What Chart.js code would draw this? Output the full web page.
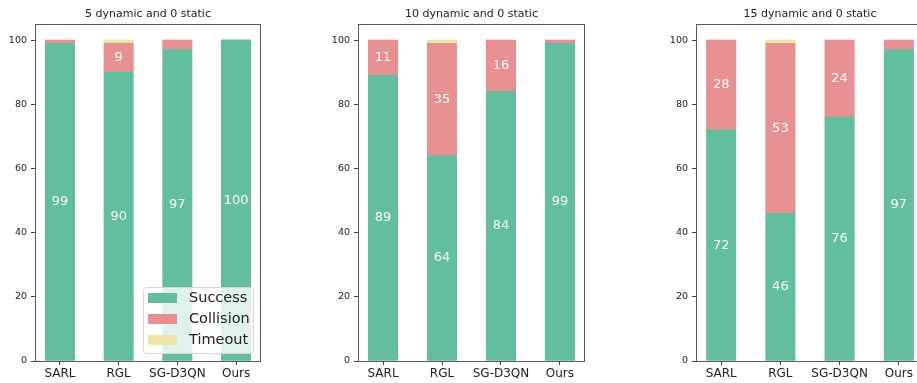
<!DOCTYPE html>
<html>
<head>
<meta charset="utf-8">
<script src="https://cdn.jsdelivr.net/npm/chart.js@4.4.1/dist/chart.umd.min.js"></script>
<style>
  html, body { margin: 0; padding: 0; background: #fff; overflow: hidden; }
  body { width: 917px; height: 383px; position: relative; }
  .panel { position: absolute; top: 0; height: 383px; }
</style>
</head>
<body>
<div class="panel" style="left:0px"><canvas id="c0" width="262" height="383"></canvas></div>
<div class="panel" style="left:323px"><canvas id="c1" width="263" height="383"></canvas></div>
<div class="panel" style="left:661px"><canvas id="c2" width="264" height="383"></canvas></div>
<script>
const methods = ['SARL', 'RGL', 'SG-D3QN', 'Ours'];
const titles = ['5 dynamic and 0 static', '10 dynamic and 0 static', '15 dynamic and 0 static'];
const yTicks = [0, 20, 40, 60, 80, 100];

// one row per scenario, one value per method (percent of episodes)
const success   = [[99, 90, 97, 100], [89, 64, 84, 99], [72, 46, 76, 97]];
const collision = [[1, 9, 3, 0],      [11, 35, 16, 1],  [28, 53, 24, 3]];
const timeout   = [[0, 1, 0, 0],      [0, 1, 0, 0],     [0, 1, 0, 0]];

const seriesNames = ['Success', 'Collision', 'Timeout'];
const seriesColors = ['#63be9e', '#e69092', '#f1e2a5'];
const FONT = '"DejaVu Sans", sans-serif';

// axes box and subplot title
const framePlugin = {
  id: 'frame',
  afterDraw(chart) {
    const { ctx, chartArea: a } = chart;
    ctx.save();
    ctx.strokeStyle = '#5a5a5a';
    ctx.lineWidth = 1;
    ctx.strokeRect(Math.round(a.left) + 0.5, Math.round(a.top) + 0.5,
      Math.round(a.right - a.left) - 1, Math.round(a.bottom - a.top));
    ctx.fillStyle = '#222';
    ctx.font = '11px ' + FONT;
    ctx.textAlign = 'center';
    ctx.textBaseline = 'middle';
    ctx.fillText(chart.options.plugins.frame.title, (a.left + a.right) / 2, 14);
    ctx.restore();
  }
};

// value written in the middle of each segment (skip the thin ones)
const valueLabels = {
  id: 'valueLabels',
  afterDatasetsDraw(chart) {
    const { ctx } = chart;
    ctx.save();
    ctx.fillStyle = 'rgba(255,255,255,0.95)';
    ctx.font = '13px ' + FONT;
    ctx.textAlign = 'center';
    ctx.textBaseline = 'middle';
    chart.data.datasets.forEach((ds, di) => {
      chart.getDatasetMeta(di).data.forEach((bar, i) => {
        const v = ds.data[i].y;
        if (v < 5) return;
        ctx.fillText(String(v), bar.x, (bar.y + bar.base) / 2);
      });
    });
    ctx.restore();
  }
};

// legend box in the lower right corner of the first panel
const innerLegend = {
  id: 'innerLegend',
  afterDraw(chart) {
    if (!chart.options.plugins.innerLegend.show) return;
    const { ctx, chartArea: a } = chart;
    const w = 110, h = 66;
    const x = a.right - 8 - w, y = a.bottom - 8 - h;
    ctx.save();
    ctx.beginPath();
    ctx.roundRect(x + 0.5, y + 0.5, w, h, 3);
    ctx.fillStyle = 'rgba(255,255,255,0.8)';
    ctx.fill();
    ctx.strokeStyle = '#d6d6d6';
    ctx.lineWidth = 1;
    ctx.stroke();
    ctx.font = '14.5px ' + FONT;
    ctx.textBaseline = 'middle';
    seriesNames.forEach((name, i) => {
      const cy = y + 11 + i * 21;
      ctx.fillStyle = seriesColors[i];
      ctx.fillRect(x + 5, cy - 5, 29, 10);
      ctx.fillStyle = '#222';
      ctx.fillText(name, x + 46, cy);
    });
    ctx.restore();
  }
};

function makeChart(idx) {
  const rows = [success[idx], collision[idx], timeout[idx]];
  return new Chart(document.getElementById('c' + idx), {
    type: 'bar',
    data: {
      datasets: rows.map((vals, s) => ({
        label: seriesNames[s],
        data: vals.map((v, i) => ({ x: i, y: v })),
        backgroundColor: seriesColors[s],
        borderWidth: 0,
        barThickness: 29.4,
      })),
    },
    options: {
      responsive: false,
      animation: false,
      layout: { padding: { top: 24, right: 1, bottom: 0, left: 0 } },
      plugins: {
        legend: { display: false },
        tooltip: { enabled: false },
        frame: { title: titles[idx] },
        innerLegend: { show: idx === 0 },
      },
      scales: {
        x: {
          type: 'linear',
          stacked: true,
          offset: false,
          min: -0.425,
          max: 3.425,
          afterBuildTicks: (s) => { s.ticks = methods.map((m, i) => ({ value: i })); },
          afterFit: (s) => { s.height = 22; },
          ticks: {
            callback: (v) => methods[v],
            color: '#222',
            font: { family: FONT, size: 12 },
            padding: 2,
            maxRotation: 0,
            autoSkip: false,
          },
          grid: { offset: false, drawOnChartArea: false, drawTicks: true, tickLength: 4, color: '#444' },
          border: { display: false },
        },
        y: {
          stacked: true,
          min: 0,
          max: 105,
          afterBuildTicks: (s) => { s.ticks = yTicks.map((v) => ({ value: v })); },
          afterFit: (s) => { s.width = 35; },
          ticks: {
            color: '#222',
            font: { family: FONT, size: 9.5 },
            padding: 4,
          },
          grid: { drawOnChartArea: false, drawTicks: true, tickLength: 4, color: '#444' },
          border: { display: false },
        },
      },
    },
    plugins: [valueLabels, framePlugin, innerLegend],
  });
}

[0, 1, 2].forEach(makeChart);
</script>
</body>
</html>
